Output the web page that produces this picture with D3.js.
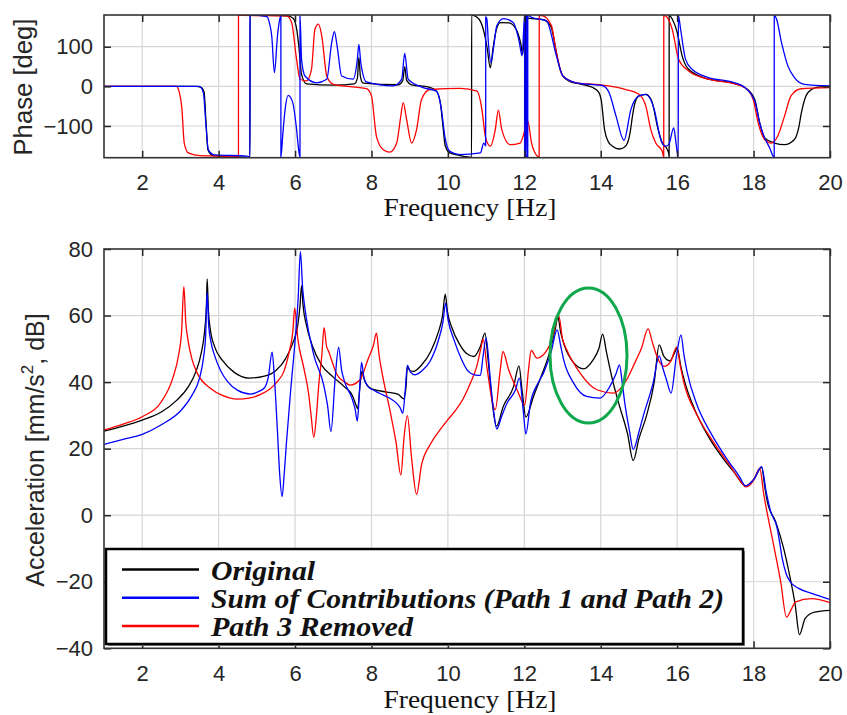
<!DOCTYPE html>
<html>
<head>
<meta charset="utf-8">
<script src="https://cdn.jsdelivr.net/npm/d3@7"></script>
<style>
  body { margin: 0; background: #fff; }
  svg { display: block; }
  .tick text { font-family: "Liberation Sans", Arial, sans-serif; font-size: 22px; fill: #262626; }
  text.serif { font-family: "Liberation Serif", "Times New Roman", Times, "Nimbus Roman", "DejaVu Serif", serif; }
</style>
</head>
<body>
<div id="chart"></div>
<script>
// ---- data ----
const xTicks = [2, 4, 6, 8, 10, 12, 14, 16, 18, 20];
const phaseTicks = [-100, 0, 100];
const magTicks = [-40, -20, 0, 20, 40, 60, 80];

const seriesNames = ["Original", "Sum of Contributions (Path 1 and Path 2)", "Path 3 Removed"];
const seriesColors = ["#000000", "#0000ff", "#ff0000"];

// magnitude [Hz, dB]
const originalMag = [[1.0,25.3],[1.5,26.8],[2.0,28.6],[2.5,31.0],[2.9,34.5],[3.2,38.5],[3.4,43],[3.55,49],[3.63,55],[3.68,63],[3.7,71],[3.73,62],[3.78,56],[3.9,50.5],[4.1,46.5],[4.4,43],[4.8,41.2],[5.2,41.8],[5.5,43.5],[5.75,47],[5.95,52],[6.07,57],[6.13,63],[6.17,69],[6.21,63],[6.3,57],[6.45,51],[6.7,45],[7.0,41.5],[7.3,38.5],[7.5,36],[7.6,33],[7.64,32],[7.7,39],[7.75,43.2],[7.82,40.5],[8.0,38],[8.4,37],[8.7,36.3],[8.84,35],[8.9,38],[8.94,44.7],[9.0,43.5],[9.1,43.2],[9.3,45],[9.55,49.2],[9.75,55],[9.86,60],[9.93,66.4],[9.99,61],[10.1,56.5],[10.3,51.5],[10.5,48.5],[10.68,47.7],[10.85,50.7],[10.97,54.7],[11.05,47],[11.16,34],[11.27,26.7],[11.45,32.7],[11.72,38.7],[11.86,44.9],[11.94,37.7],[12.04,29.5],[12.24,35.7],[12.45,42],[12.65,48.5],[12.81,56],[12.88,59.5],[12.95,55],[13.05,51],[13.3,45.7],[13.55,44],[13.8,46.7],[13.95,50],[14.05,54.4],[14.15,49],[14.3,41],[14.5,32.5],[14.7,24.5],[14.85,16.4],[15.0,23],[15.2,30],[15.4,40],[15.53,51.2],[15.65,47.8],[15.81,46.4],[15.92,48.5],[16.0,50.2],[16.1,44.5],[16.2,40],[16.45,32],[16.8,24],[17.2,17.1],[17.5,12.8],[17.79,8.8],[18.02,11],[18.21,14.4],[18.3,8],[18.36,4.0],[18.58,-2],[18.79,-10.1],[18.96,-19],[19.09,-27],[19.2,-35.9],[19.35,-31],[19.6,-29.1],[20,-28.6]];

const sumMag = [[1.0,21.3],[1.5,22.8],[2.0,24.3],[2.5,27.2],[3.0,31.3],[3.3,36],[3.5,41.2],[3.6,47],[3.66,54],[3.7,67],[3.74,57],[3.8,52],[3.9,47.8],[4.05,43.5],[4.23,40.2],[4.5,37.5],[4.84,36.4],[5.05,37.2],[5.2,38.3],[5.3,41.5],[5.4,49],[5.46,41.2],[5.54,25.1],[5.6,12],[5.66,5.6],[5.72,13],[5.77,21.1],[5.89,38.1],[6.02,55.2],[6.08,65],[6.14,79.2],[6.2,68],[6.27,61.2],[6.49,48.2],[6.75,39.1],[6.85,33],[6.94,25.1],[7.05,41.2],[7.14,50.4],[7.22,43.5],[7.3,40],[7.49,35.1],[7.57,32],[7.63,28.3],[7.68,36],[7.74,45.9],[7.8,41.5],[7.9,38.8],[8.1,37.3],[8.31,36.1],[8.5,35],[8.66,33.6],[8.75,32.3],[8.82,30.6],[8.88,37],[8.94,45.0],[9.02,43],[9.14,42.2],[9.35,43.7],[9.53,46.2],[9.75,52.5],[9.87,58],[9.94,63.7],[10.0,59],[10.16,52.7],[10.35,47],[10.5,43.7],[10.7,42.2],[10.85,42.0],[10.92,47.7],[11.0,53.2],[11.11,40.7],[11.2,31],[11.28,25.9],[11.4,29.5],[11.55,33.7],[11.77,37.7],[11.87,41.2],[11.97,31.7],[12.04,24.4],[12.16,33.7],[12.35,39.5],[12.5,42.7],[12.7,49],[12.86,55.7],[12.95,51],[13.03,46.7],[13.29,39.7],[13.63,35.7],[13.98,35.2],[14.24,38.7],[14.4,42.5],[14.49,45.2],[14.56,40],[14.63,33.7],[14.75,25.5],[14.85,19.7],[15.0,25],[15.11,29.7],[15.37,39.7],[15.53,47.9],[15.63,44],[15.72,40.7],[15.84,36.7],[15.98,47.7],[16.1,54.2],[16.18,48],[16.26,43.1],[16.52,33.1],[16.86,25.1],[17.29,17.1],[17.63,11.6],[17.79,8.8],[18.02,11],[18.21,14.6],[18.33,7],[18.45,1.0],[18.62,-4.0],[18.68,-8],[18.75,-13],[18.85,-17.5],[18.96,-20],[19.18,-22],[19.52,-23.5],[20,-25.3]];

const path3Mag = [[1.0,25.6],[1.5,27.4],[2.0,29.6],[2.5,34.1],[2.8,41.2],[2.95,48],[3.03,55],[3.09,68.7],[3.14,58],[3.19,53.2],[3.3,47],[3.44,42.7],[3.79,38.1],[4.1,36],[4.49,34.9],[4.8,35.2],[5.1,36.3],[5.35,38],[5.54,40.2],[5.7,43],[5.85,49.2],[5.94,55],[5.99,62.2],[6.07,53.2],[6.23,44.2],[6.36,36.1],[6.42,30],[6.49,23.4],[6.56,30],[6.62,39.1],[6.7,48],[6.76,56.4],[6.82,51],[6.88,49.2],[7.1,42.2],[7.3,40],[7.44,39.1],[7.7,40.7],[7.92,47.2],[8.05,51],[8.13,54.7],[8.2,48],[8.27,43.2],[8.49,31.1],[8.64,22.1],[8.77,12.1],[8.85,23.1],[8.94,29.9],[9.05,17.1],[9.18,6.3],[9.31,15.1],[9.53,21.1],[9.75,25],[9.97,28.3],[10.2,31.5],[10.4,35],[10.6,40],[10.75,44.5],[10.87,50.5],[10.92,52.9],[11.03,43.7],[11.24,31.7],[11.37,43.7],[11.44,49.2],[11.59,43.7],[11.81,37.7],[12.01,33.2],[12.11,43.7],[12.18,49.5],[12.33,47.2],[12.5,48.2],[12.72,52.7],[12.9,60.0],[13.0,53],[13.11,49.7],[13.46,42.7],[13.9,37.7],[14.33,36.7],[14.68,40.7],[14.9,46],[15.06,50],[15.24,56.0],[15.35,52],[15.48,47.5],[15.66,44.7],[15.83,46.2],[15.99,50.5],[16.08,45],[16.17,40.1],[16.52,30.1],[16.94,22.1],[17.37,15.1],[17.72,9.3],[17.8,8.5],[18.0,10.5],[18.16,14.1],[18.27,6.0],[18.49,-7.0],[18.71,-20.0],[18.86,-30.6],[19.0,-28],[19.09,-26.1],[19.52,-25.1],[20,-26.3]];

// phase [Hz, deg]
const originalPhase = [[1,0],[3.4,0],[3.55,-3],[3.62,-15],[3.67,-90],[3.72,-160],[3.85,-175],[4.5,-178],[4.82,-179],[4.821,180],[5.8,178],[5.95,172],[6.05,140],[6.1,100],[6.17,30],[6.3,6],[7.0,3],[7.55,6],[7.63,20],[7.67,73],[7.71,25],[7.78,8],[8.7,4],[8.82,15],[8.87,50],[8.92,15],[9.05,4],[9.5,-2],[9.7,-12],[9.8,-40],[9.87,-100],[9.93,-150],[10.05,-168],[10.3,-174],[10.62,-179],[10.621,180],[10.81,170],[10.95,135],[11.03,95],[11.11,47],[11.18,95],[11.26,140],[11.37,161],[11.6,160],[11.78,145],[11.9,111],[11.96,81],[12.0,140],[12.02,179],[12.021,-179],[12.03,-179],[12.031,179],[12.1,172],[12.5,168],[12.7,150],[12.84,85],[12.93,45],[13.01,26],[13.2,12],[13.36,8],[13.79,-3],[13.95,-15],[14.01,-33],[14.1,-109],[14.2,-140],[14.31,-151],[14.48,-158],[14.6,-155],[14.7,-143],[14.78,-110],[14.83,-75],[14.9,-40],[15.0,-24],[15.18,-20],[15.3,-30],[15.35,-41],[15.48,-100],[15.61,-143],[15.74,-159],[15.78,-170],[15.79,-179],[15.791,179],[15.87,170],[16.0,136],[16.13,77],[16.3,43],[16.82,18],[17.43,9],[17.77,-3],[18.03,-33],[18.16,-92],[18.29,-130],[18.55,-143],[18.81,-147],[19.07,-134],[19.18,-105],[19.25,-67],[19.42,-16],[19.68,-2],[20,0]];

const sumPhase = [[1,0],[3.5,0],[3.6,-16],[3.67,-100],[3.73,-160],[3.91,-173],[4.74,-176],[4.82,-178],[4.821,180],[5.26,176],[5.33,160],[5.39,127],[5.46,35],[5.54,127],[5.6,170],[5.629,178],[5.63,-178],[5.68,-120],[5.74,-58],[5.82,-23],[5.94,-41],[6.04,-109],[6.1,-164],[6.129,-178],[6.13,178],[6.17,68],[6.26,26],[6.56,9],[6.83,18],[6.96,111],[7.03,138],[7.1,102],[7.22,26],[7.52,18],[7.63,68],[7.67,106],[7.72,60],[7.87,11],[8.57,1],[8.79,18],[8.87,83],[8.96,18],[9.35,-3],[9.7,-12],[9.83,-58],[9.92,-126],[10.05,-164],[10.31,-172],[10.85,-168],[10.94,-143],[10.989,-150],[10.99,175],[11.02,170],[11.06,110],[11.13,60],[11.19,94],[11.28,153],[11.45,171],[11.71,161],[11.87,111],[11.94,77],[12.0,170],[12.01,179],[12.011,-179],[12.04,-170],[12.05,-179],[12.051,179],[12.08,176],[12.081,-179],[12.09,-179],[12.091,179],[12.19,174],[12.58,165],[12.84,77],[13.01,26],[13.36,9],[13.97,3],[14.05,2],[14.22,-16],[14.4,-75],[14.61,-136],[14.79,-58],[15.0,-24],[15.18,-20],[15.4,-58],[15.57,-134],[15.7,-151],[15.78,-147],[15.91,-105],[15.97,-143],[16.03,-179],[16.031,179],[16.09,144],[16.22,68],[16.39,43],[16.82,22],[17.43,11],[17.77,-3],[18.03,-37],[18.16,-92],[18.29,-130],[18.42,-155],[18.54,-179],[18.541,179],[18.6,170],[18.73,111],[18.9,51],[19.07,22],[19.33,5],[20,1]];

const path3Phase = [[1,0],[2.9,0],[2.95,-8],[3.04,-58],[3.1,-143],[3.21,-168],[3.52,-175],[4.5,-177],[4.519,-179],[4.52,179],[4.65,179],[5.78,178],[5.91,161],[6.04,68],[6.13,18],[6.3,14],[6.43,43],[6.52,144],[6.61,157],[6.7,127],[6.83,26],[7.0,5],[7.87,-6],[8.0,-24],[8.13,-126],[8.31,-160],[8.48,-166],[8.66,-143],[8.76,-80],[8.83,-41],[8.92,-84],[9.05,-143],[9.18,-109],[9.31,-33],[9.53,-8],[10.33,-5],[10.76,-12],[10.89,-58],[10.98,-126],[11.11,-151],[11.24,-109],[11.32,-60],[11.41,-109],[11.63,-147],[11.89,-143],[12.02,-109],[12.09,-88],[12.19,-143],[12.34,-176],[12.389,-179],[12.39,179],[12.49,178],[12.71,153],[12.84,85],[13.01,26],[13.36,9],[13.97,4],[14.66,-8],[15.0,-20],[15.18,-50],[15.31,-109],[15.44,-143],[15.61,-164],[15.649,-179],[15.65,179],[15.74,174],[15.87,144],[16.04,68],[16.3,39],[16.82,18],[17.43,8],[17.77,-3],[17.99,-33],[18.12,-92],[18.29,-134],[18.46,-143],[18.63,-126],[18.81,-75],[18.98,-24],[19.24,-6],[20,-3]];

// ---- drawing ----
const W = 847, H = 715;
const left = 104, right = 830;

const svg = d3.select('#chart').append('svg')
  .attr('width', W)
  .attr('height', H);

const x = d3.scaleLinear().domain([1, 20]).range([left, right]);

function drawPanel(top, bottom, yDomain, yTicks, gridY, series, id) {
  const y = d3.scaleLinear().domain(yDomain).range([bottom, top]);
  const g = svg.append('g');

  // grid
  g.append('g').selectAll('line')
    .data(xTicks.filter(d => d < 20))
    .enter().append('line')
      .attr('x1', d => x(d)).attr('x2', d => x(d))
      .attr('y1', top).attr('y2', bottom)
      .attr('stroke', '#d6d6d6').attr('stroke-width', 1.2);
  g.append('g').selectAll('line')
    .data(gridY)
    .enter().append('line')
      .attr('x1', left).attr('x2', right)
      .attr('y1', d => y(d)).attr('y2', d => y(d))
      .attr('stroke', '#d6d6d6').attr('stroke-width', 1.2);

  svg.append('clipPath').attr('id', id)
    .append('rect').attr('x', left).attr('y', top)
    .attr('width', right - left).attr('height', bottom - top);

  const line = d3.line()
    .x(d => x(d[0]))
    .y(d => y(d[1]))
    .curve(d3.curveMonotoneX);

  // draw order: original, path 3, sum
  [0, 2, 1].forEach(i => {
    g.append('path')
      .datum(series[i])
      .attr('clip-path', 'url(#' + id + ')')
      .attr('fill', 'none')
      .attr('stroke', seriesColors[i])
      .attr('stroke-width', 1.3)
      .attr('stroke-linejoin', 'round')
      .attr('d', line);
  });

  // axes with inward ticks
  const xAxis = d3.axisBottom(x).tickValues(xTicks).tickSize(-7).tickSizeOuter(0).tickPadding(17);
  const yAxis = d3.axisLeft(y).tickValues(yTicks).tickSize(-7).tickSizeOuter(0).tickPadding(11);

  g.append('g').attr('transform', 'translate(0,' + bottom + ')').call(xAxis);
  g.append('g').attr('transform', 'translate(' + left + ',0)').call(yAxis);
  g.append('g').attr('transform', 'translate(0,' + top + ')')
    .call(d3.axisTop(x).tickValues(xTicks).tickSize(-7).tickSizeOuter(0).tickFormat(''));
  g.append('g').attr('transform', 'translate(' + right + ',0)')
    .call(d3.axisRight(y).tickValues(yTicks).tickSize(-7).tickSizeOuter(0).tickFormat(''));

  g.selectAll('.domain').remove();
  g.selectAll('.tick line').attr('stroke', '#262626').attr('stroke-width', 1.5);

  g.append('rect')
    .attr('x', left).attr('y', top)
    .attr('width', right - left).attr('height', bottom - top)
    .attr('fill', 'none').attr('stroke', '#333').attr('stroke-width', 1.6);

  return y;
}

// top: phase
drawPanel(15, 157.7, [-180, 180], phaseTicks, phaseTicks, [originalPhase, sumPhase, path3Phase], 'clipTop');

// bottom: magnitude
const yMag = drawPanel(249, 648.3, [-40, 80], magTicks, [-20, 0, 20, 40, 60], [originalMag, sumMag, path3Mag], 'clipBot');

// axis titles
function freqLabel(yb) {
  svg.append('text')
    .attr('class', 'serif')
    .attr('x', 470).attr('y', yb)
    .attr('text-anchor', 'middle')
    .style('font-size', '25px')
    .attr('textLength', 173)
    .attr('lengthAdjust', 'spacingAndGlyphs')
    .attr('fill', '#111')
    .text('Frequency [Hz]');
}
freqLabel(216);
freqLabel(708);

const sans = '"Liberation Sans", Arial, sans-serif';

svg.append('text')
  .attr('transform', 'translate(32,87) rotate(-90)')
  .attr('text-anchor', 'middle')
  .style('font-family', sans)
  .style('font-size', '25px')
  .attr('textLength', 137)
  .attr('lengthAdjust', 'spacingAndGlyphs')
  .attr('fill', '#262626')
  .text('Phase [deg]');

const accel = svg.append('text')
  .attr('transform', 'translate(44,450) rotate(-90)')
  .attr('text-anchor', 'middle')
  .style('font-family', sans)
  .style('font-size', '25px')
  .attr('fill', '#262626');
accel.append('tspan').text('Acceleration [mm/s');
accel.append('tspan').style('font-size', '17px').attr('dy', -11).text('2');
accel.append('tspan').attr('dy', 11).text(', dB]');

// green ellipse highlighting the 13-14 Hz region
svg.append('ellipse')
  .attr('cx', x(13.68)).attr('cy', yMag(48))
  .attr('rx', 38.5).attr('ry', 67.5)
  .attr('fill', 'none')
  .attr('stroke', '#10a84c')
  .attr('stroke-width', 3);

// legend
const lg = svg.append('g');
lg.append('rect')
  .attr('x', 108).attr('y', 551).attr('width', 637).attr('height', 95)
  .attr('fill', '#888');
lg.append('rect')
  .attr('x', 106).attr('y', 549).attr('width', 637).attr('height', 95)
  .attr('fill', '#fff').attr('stroke', '#000').attr('stroke-width', 2.5);

const rowY = [569.5, 597.8, 626];
const rowW = [104, 513, 202];
seriesNames.forEach((name, i) => {
  lg.append('line')
    .attr('x1', 122).attr('x2', 199)
    .attr('y1', rowY[i]).attr('y2', rowY[i])
    .attr('stroke', seriesColors[i]).attr('stroke-width', 2.5);
  lg.append('text')
    .attr('class', 'serif')
    .attr('x', 211).attr('y', rowY[i] + 10)
    .style('font-weight', 'bold').style('font-style', 'italic')
    .style('font-size', '27px')
    .attr('textLength', rowW[i])
    .attr('lengthAdjust', 'spacingAndGlyphs')
    .attr('fill', '#111')
    .text(name);
});
</script>
</body>
</html>
